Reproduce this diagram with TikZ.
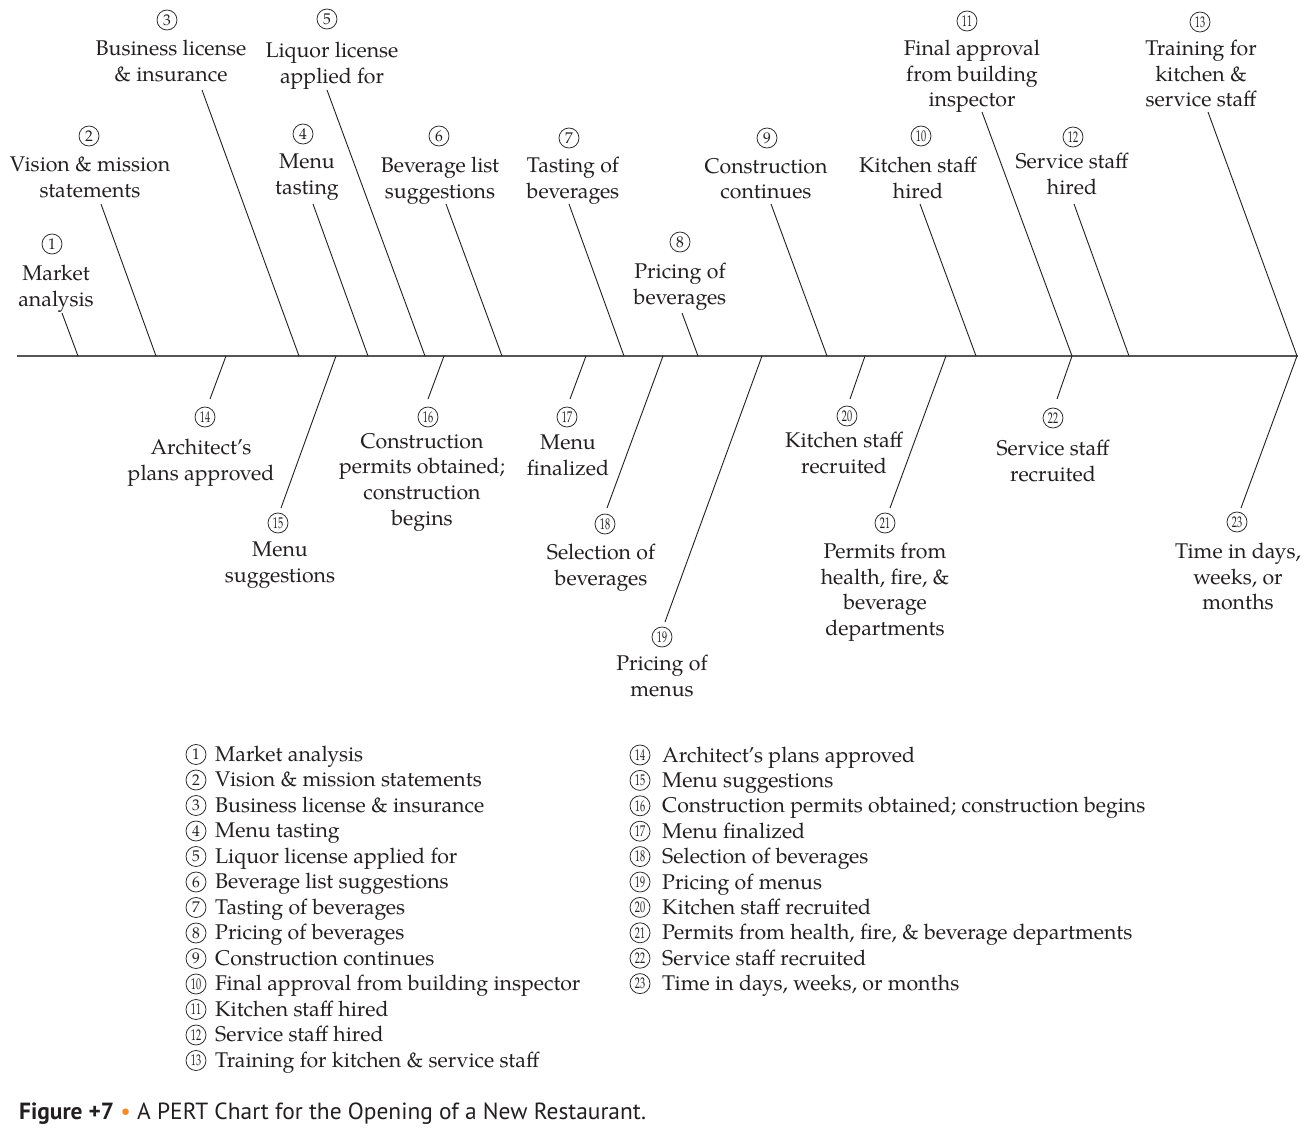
\documentclass[tikz,border=0pt]{standalone}
\usepackage{fontspec}
\usepackage{graphicx}
\setmainfont{TeX Gyre Pagella}
\newfontfamily\capfont{PT Sans}
\definecolor{ink}{RGB}{35,31,32}
\definecolor{axisgray}{RGB}{85,85,85}
\definecolor{capor}{RGB}{240,140,40}
\newcommand\lblfont{\fontsize{21.3}{25.6}\selectfont}
\newcommand\numfont{\fontsize{15.5}{15.5}\selectfont}
\newcommand\nn[1]{\scalebox{0.66}[1]{#1}}
\begin{document}
\begin{tikzpicture}[x=1pt,y=-1pt,
  lbl/.style={align=center,inner sep=0pt,anchor=north,text=ink,font=\lblfont},
  cnum/.style={circle,draw=ink,line width=0.75pt,minimum size=20pt,inner sep=0pt,text=ink,font=\numfont},
  br/.style={draw=ink,line width=0.9pt},
  axisline/.style={draw=axisgray,line width=1.3pt},
  legtxt/.style={anchor=base west,inner sep=0pt,text=ink,font=\lblfont}]
\useasboundingbox (0,0) rectangle (1312,1138);

% ---- time axis ----
\coordinate (start) at (17,356);
\coordinate (finish) at (1298,356);
\draw[axisline] (start) -- (finish);

% ---- upper events ----
\node[cnum] (n1) at (52,244) {1};
\node[lbl] (l1) at (56,265) {Market\\analysis};
\node[cnum] (n2) at (89,136) {2};
\node[lbl] (l2) at (90,157) {Vision \& mission\\statements};
\node[cnum] (n3) at (167,20) {3};
\node[lbl] (l3) at (171,40) {Business license\\\& insurance};
\node[cnum] (n4) at (303,134) {4};
\node[lbl] (l4) at (307,154) {Menu\\tasting};
\node[cnum] (n5) at (327,19) {5};
\node[lbl] (l5) at (332,42) {Liquor license\\applied for};
\node[cnum] (n6) at (439,136) {6};
\node[lbl] (l6) at (440,157) {Beverage list\\suggestions};
\node[cnum] (n7) at (569,138) {7};
\node[lbl] (l7) at (573,157) {Tasting of\\beverages};
\node[cnum] (n8) at (680,242) {8};
\node[lbl] (l8) at (680,263) {Pricing of\\beverages};
\node[cnum] (n9) at (767,138) {9};
\node[lbl] (l9) at (766,158) {Construction\\continues};
\node[cnum] (n10) at (921,136) {\nn{10}};
\node[lbl] (l10) at (918,157) {Kitchen staff\\hired};
\node[cnum] (n11) at (967,21) {\nn{11}};
\node[lbl] (l11) at (972,40) {Final approval\\from building\\inspector};
\node[cnum] (n12) at (1073,137) {\nn{12}};
\node[lbl] (l12) at (1072,153) {Service staff\\hired};
\node[cnum] (n13) at (1200,22) {\nn{13}};
\node[lbl] (l13) at (1201,40) {Training for\\kitchen \&\\service staff};

% ---- lower events ----
\node[cnum] (n14) at (205,417) {\nn{14}};
\node[lbl] (l14) at (201,439) {Architect’s\\plans approved};
\node[cnum] (n15) at (278,523) {\nn{15}};
\node[lbl] (l15) at (280,542) {Menu\\suggestions};
\node[cnum] (n16) at (428,417) {\nn{16}};
\node[lbl] (l16) at (422,433) {Construction\\permits obtained;\\construction\\begins};
\node[cnum] (n17) at (567,417) {\nn{17}};
\node[lbl] (l17) at (568,435) {Menu\\finalized};
\node[cnum] (n18) at (605,524) {\nn{18}};
\node[lbl] (l18) at (601,544) {Selection of\\beverages};
\node[cnum] (n19) at (662,637) {\nn{19}};
\node[lbl] (l19) at (662,655) {Pricing of\\menus};
\node[cnum] (n20) at (847,416) {\nn{20}};
\node[lbl] (l20) at (844,432) {Kitchen staff\\recruited};
\node[cnum] (n21) at (885,523) {\nn{21}};
\node[lbl] (l21) at (885,543) {Permits from\\health, fire, \&\\beverage\\departments};
\node[cnum] (n22) at (1053,418) {\nn{22}};
\node[lbl] (l22) at (1053,440) {Service staff\\recruited};
\node[cnum] (n23) at (1237,522) {\nn{23}};
\node[lbl] (l23) at (1238,543) {Time in days,\\weeks, or\\months};

% ---- connector end points ----
\foreach \k/\ex/\ey/\ax in {
  1/62/313/78, 2/101/204/156, 3/202/90/299, 4/313/204/368, 5/327/90/425,
  6/446/204/502, 7/569/204/624, 8/682/313/698, 9/771/204/827, 10/920/204/976,
  11/982/112/1072, 12/1074/204/1129, 13/1208/112/1297,
  14/210/399/226, 15/281/508/336, 16/428/399/444, 17/570/399/586,
  18/607/508/663, 19/665/622/762, 20/850/399/865, 21/890/508/946,
  22/1057/399/1072, 23/1241/508/1297}{
  \coordinate (e\k) at (\ex,\ey);
  \coordinate (a\k) at (\ax,356);
}
\foreach \k in {1,...,23}{\draw[br] (e\k) -- (a\k);}

% ---- legend ----
\foreach \i/\t in {1/{Market analysis},2/{Vision \& mission statements},
  3/{Business license \& insurance},4/{Menu tasting},5/{Liquor license applied for},
  6/{Beverage list suggestions},7/{Tasting of beverages},8/{Pricing of beverages},
  9/{Construction continues},10/{Final approval from building inspector},
  11/{Kitchen staff hired},12/{Service staff hired},13/{Training for kitchen \& service staff}}{
  \pgfmathsetmacro\yb{761+25.5*(\i-1)}
  \ifnum\i<10
    \node[cnum] (ln\i) at (196,\yb-6.5) {\i};
  \else
    \node[cnum] (ln\i) at (196,\yb-6.5) {\nn{\i}};
  \fi
  \node[legtxt] (lt\i) at (215,\yb) {\t};
}
\foreach \i/\t in {14/{Architect’s plans approved},15/{Menu suggestions},
  16/{Construction permits obtained; construction begins},17/{Menu finalized},
  18/{Selection of beverages},19/{Pricing of menus},20/{Kitchen staff recruited},
  21/{Permits from health, fire, \& beverage departments},22/{Service staff recruited},
  23/{Time in days, weeks, or months}}{
  \pgfmathsetmacro\yb{762+25.4*(\i-14)}
  \node[cnum] (ln\i) at (640,\yb-7) {\nn{\i}};
  \node[legtxt] (lt\i) at (662,\yb) {\t};
}

% ---- caption ----
\node[anchor=base west,inner sep=0pt,text=ink,font=\capfont\fontsize{23.4}{23.4}\selectfont] (cap) at (19,1119)
  {\textbf{Figure +7} \textcolor{capor}{•} A PERT Chart for the Opening of a New Restaurant.};
\end{tikzpicture}
\end{document}
